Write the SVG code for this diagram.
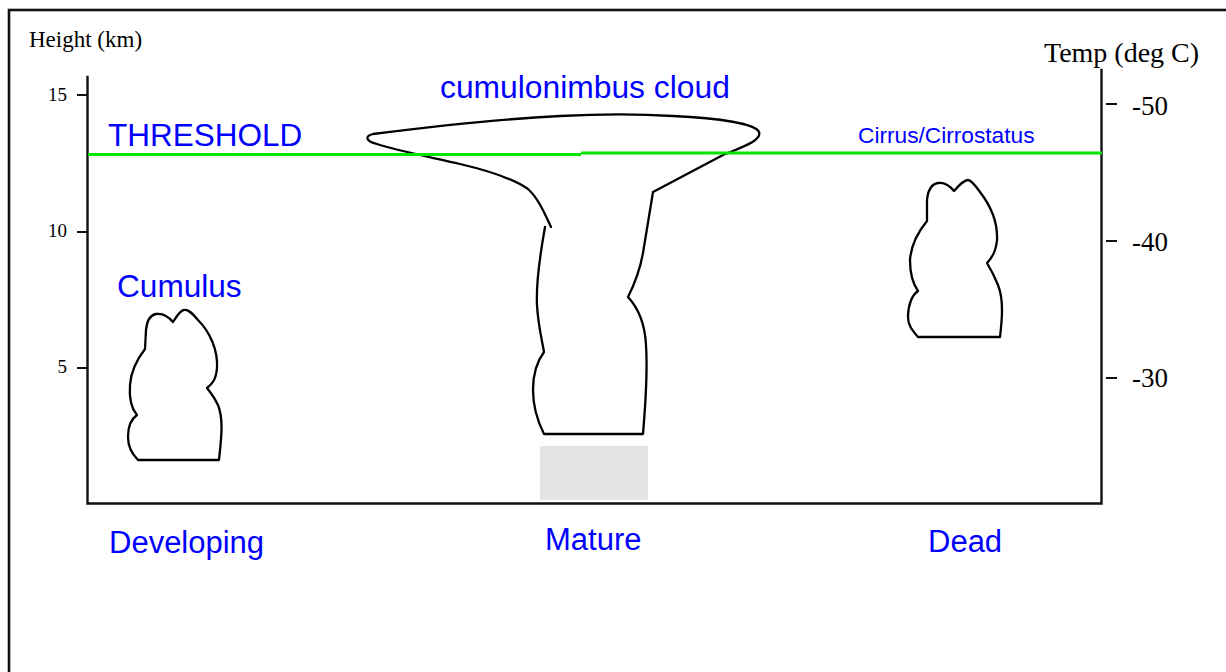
<svg xmlns="http://www.w3.org/2000/svg" width="1226" height="672" viewBox="0 0 1226 672">
  <style>
    .frame { fill: none; stroke: #111; stroke-width: 2.6; }
    .axis { fill: none; stroke: #111; stroke-width: 2.4; stroke-linecap: square; }
    .tick { stroke: #111; stroke-width: 2; }
    .cloud { fill: none; stroke: #000; stroke-width: 2.3; stroke-linejoin: round; stroke-linecap: round; }
    .threshold { stroke: #00e600; stroke-width: 3.2; }
    .serif { font-family: "Liberation Serif", "Times New Roman", serif; fill: #000; }
    .label { font-family: "Liberation Sans", Arial, sans-serif; fill: #0000ff; }
  </style>

  <rect x="0" y="0" width="1226" height="672" fill="#ffffff"/>
  <!-- outer frame (right and bottom edges run off the page) -->
  <rect class="frame" x="9" y="10" width="1400" height="900"/>

  <!-- axes -->
  <g id="axes">
    <path class="axis" d="M87.5,77 L87.5,503.5 L1101.5,503.5 L1101.5,70"/>
    <g id="height-ticks">
      <line class="tick" x1="77" y1="95" x2="87" y2="95"/>
      <line class="tick" x1="77" y1="232" x2="87" y2="232"/>
      <line class="tick" x1="77" y1="368" x2="87" y2="368"/>
      <text class="serif" x="67" y="101" font-size="19" text-anchor="end">15</text>
      <text class="serif" x="67" y="237" font-size="19" text-anchor="end">10</text>
      <text class="serif" x="67" y="373" font-size="19" text-anchor="end">5</text>
    </g>
    <g id="temp-ticks">
      <line class="tick" x1="1106" y1="104" x2="1117" y2="104"/>
      <line class="tick" x1="1106" y1="241" x2="1117" y2="241"/>
      <line class="tick" x1="1106" y1="378" x2="1117" y2="378"/>
      <text class="serif" x="1132" y="115" font-size="27">-50</text>
      <text class="serif" x="1132" y="251" font-size="27">-40</text>
      <text class="serif" x="1132" y="387" font-size="27">-30</text>
    </g>
    <text class="serif" x="29" y="47" font-size="23">Height (km)</text>
    <text class="serif" x="1044" y="62" font-size="28">Temp (deg C)</text>
  </g>

  <!-- ground patch under the mature cell -->
  <rect id="rain-shaft" x="540" y="446" width="108" height="54" fill="#e4e4e4"/>

  <!-- developing cumulus -->
  <g id="cumulus">
    <path class="cloud" d="M138,460 L219,460 C221,440 224,420 218,405 C214,396 210,392 207,388 C212,384 216,380 217,368 C218,350 210,332 198,320 C192,313 188,309 184,310 C181,310 178,314 173,322 C168,316 162,313 156,314 C150,315 147,320 146,330 L145,349 C138,358 131,370 130,385 C129,398 131,408 137,415 C131,419 128,425 128,437 C128,448 133,455 138,460 Z"/>
    <text class="label" x="117" y="297" font-size="31.6">Cumulus</text>
  </g>

  <!-- mature cumulonimbus with anvil -->
  <g id="cumulonimbus">
    <path class="cloud" d="M545,227 C540,255 536,285 537,305 C538,325 542,340 544,352 C538,360 533,372 533,390 C533,408 538,422 544,434 L643,434 C645,410 648,375 646,345 C645,325 640,310 628,297 C635,283 640,270 643,253 L653,192 L723,155 C745,146 762,140 759,132 C756,124 720,118 673,116 C640,114 600,114 560,116 C500,119 420,128 373,134 C365,136 365,141 377,144 C395,150 430,157 460,164 C490,171 515,180 528,189 C538,198 544,212 551,227"/>
    <text class="label" x="440" y="98" font-size="31.8">cumulonimbus cloud</text>
  </g>

  <!-- dissipated cell -->
  <g id="dead-cloud">
    <path class="cloud" d="M918,337 L1000,337 C1002,320 1004,300 998,285 C994,275 990,268 987,263 C992,258 996,252 997,240 C998,220 990,205 980,192 C975,185 971,180 968,180 C964,180 960,184 954,191 C950,186 944,182 938,183 C932,184 928,190 927,200 L927,221 C918,232 911,245 910,260 C910,275 913,284 918,291 C912,295 908,305 908,317 C908,326 913,331 918,337 Z"/>
    <text class="label" x="858" y="143" font-size="22.7">Cirrus/Cirrostatus</text>
  </g>

  <!-- threshold level -->
  <g id="threshold">
    <line class="threshold" x1="88" y1="154.5" x2="581" y2="154.5"/>
    <line class="threshold" x1="581" y1="153" x2="1102" y2="153"/>
    <text class="label" x="108" y="146" font-size="31.5">THRESHOLD</text>
  </g>

  <!-- stage labels -->
  <g id="stages">
    <text class="label" x="109" y="553" font-size="31">Developing</text>
    <text class="label" x="545" y="550" font-size="31">Mature</text>
    <text class="label" x="928" y="552" font-size="31">Dead</text>
  </g>
</svg>
